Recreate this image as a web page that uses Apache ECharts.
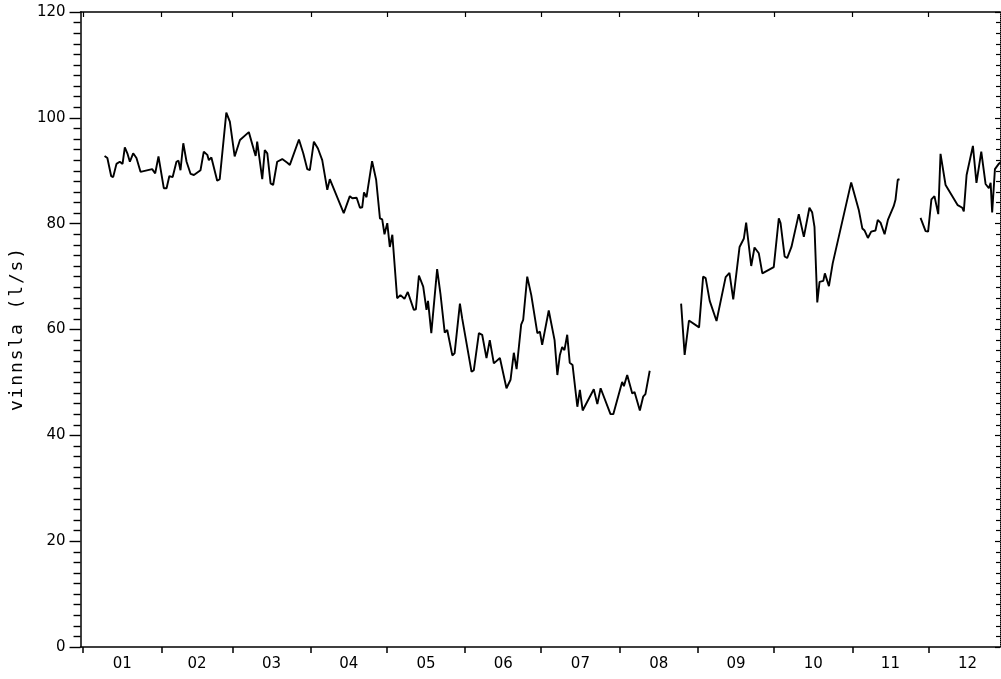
<!DOCTYPE html>
<html><head><meta charset="utf-8">
<script src="https://cdn.jsdelivr.net/npm/echarts@6/dist/echarts.min.js"></script>
<style>html,body{margin:0;padding:0;background:#fff}#c{width:1001px;height:679px}</style>
</head><body><div id="c"></div>
<script>
const monthLabels = ['01','02','03','04','05','06','07','08','09','10','11','12'];
const monthStartDays = [0,31,59,90,120,151,181,212,243,273,304,334];
const monthMidDays = [15.5,45,74.5,105,135.5,166,196.5,227.5,258,288.5,319,349.5];
const yAxisTitle = 'vinnsla (l/s)';

const seg1Days = [8.5,9.6,11.1,11.9,13.2,14.5,15.6,16.5,17.5,18.5,19.8,21.1,22.7,27.3,28.5,29.8,31.9,33.0,34.1,35.4,36.9,37.7,38.5,39.6,40.9,42.5,43.8,46.4,47.7,49.1,49.7,50.7,53.0,54.0,56.6,58.0,59.9,60.6,62.0,65.5,67.5,68.2,68.8,70.8,71.8,72.8,74.1,75.1,76.7,78.7,80.7,81.7,85.3,87.0,88.6,89.6,91.2,92.8,94.5,96.5,97.5,103.0,105.4,106.4,108.1,109.4,110.3,111.0,112.0,114.2,115.8,117.3,118.2,119.1,120.2,121.2,122.2,124.1,125.4,127.0,128.3,130.7,131.5,132.7,134.4,135.7,136.3,137.6,139.9,141.2,142.9,143.9,145.9,146.8,148.9,149.8,150.5,153.5,154.4,156.4,157.7,159.4,160.7,162.3,164.7,167.3,168.9,170.2,171.3,173.1,173.9,175.5,177.1,179.5,180.5,181.4,184.0,186.3,187.4,188.4,189.3,190.2,191.3,192.3,193.4,195.3,196.3,197.4,201.8,203.2,204.5,208.4,209.5,213.0,213.7,215.0,217.0,217.9,220.0,221.3,222.2,223.9];
const seg1Flow = [92.8,92.4,89.0,88.8,91.3,91.7,91.3,94.4,93.3,91.7,93.3,92.4,89.8,90.3,89.5,92.7,86.7,86.7,89.0,88.8,91.7,91.9,90.1,95.2,91.7,89.4,89.2,90.1,93.6,93.0,92.0,92.5,88.1,88.4,101.0,99.3,92.7,92.4,95.8,97.3,93.9,92.8,95.5,88.4,93.9,93.3,87.6,87.3,91.7,92.2,91.5,91.1,95.9,93.3,90.3,90.1,95.5,94.2,92.0,86.4,88.4,82.0,85.2,84.8,84.9,83.0,83.1,85.9,85.0,91.8,88.3,81.0,80.8,78.0,80.1,75.6,77.9,65.9,66.5,65.8,67.1,63.7,63.8,70.2,68.1,63.7,65.4,59.3,71.4,66.8,59.4,59.9,55.1,55.5,64.9,62.1,61.9,52.0,52.3,59.3,59.0,54.6,58.0,53.6,54.6,48.9,50.5,55.6,52.5,60.9,61.8,70.0,66.5,59.3,59.6,57.1,63.6,58.0,51.4,55.2,56.7,56.1,59.0,53.7,53.3,45.4,48.6,44.7,48.7,45.9,48.9,44.0,44.0,50.1,49.3,51.4,47.9,48.2,44.7,47.3,47.8,52.2];

const seg2Days = [236.3,237.7,239.4,243.4,245.0,246.0,247.6,250.3,253.9,255.4,256.9,257.4,259.4,261.1,262.0,264.0,265.3,267.0,268.4,272.9,274.9,275.6,277.2,278.2,279.9,282.8,284.8,287.0,288.1,289.0,290.1,291.0,292.5,293.1,294.7,296.2,303.5,306.5,307.9,308.8,310.1,311.4,313.1,314.0,315.1,316.7,318.0,320.3,321.0,321.9,322.6];
const seg2Flow = [64.9,55.2,61.7,60.4,70.0,69.7,65.4,61.6,69.9,70.7,65.7,65.6,75.6,77.2,80.2,72.0,75.5,74.4,70.6,71.8,81.0,80.1,73.8,73.5,75.6,81.8,77.5,83.0,82.1,79.4,65.1,69.0,69.2,70.6,68.2,72.5,87.8,82.6,79.1,78.7,77.3,78.5,78.7,80.7,80.2,78.0,80.7,83.3,84.5,88.3,88.4];

const seg3Days = [330.9,332.9,333.9,335.2,336.4,337.9,338.8,340.8,345.6,347.4,348.0,349.1,351.6,353.0,354.9,356.6,357.9,358.6,359.2,360.3,361.8,362.9];
const seg3Flow = [81.1,78.6,78.5,84.6,85.2,81.8,93.2,87.3,83.5,83.0,82.3,89.2,94.7,87.7,93.6,87.5,86.7,87.7,82.1,90.3,91.3,91.7];

const zip = (a, b) => a.map((d, i) => [d, b[i]]);
const segments = [zip(seg1Days, seg1Flow), zip(seg2Days, seg2Flow), zip(seg3Days, seg3Flow)];

const X_MIN = -1, X_MAX = 362.3;
const ink = '#000';
const font = 'DejaVu Sans';

const chart = echarts.init(document.getElementById('c'), null, {renderer: 'canvas'});
const titleRich = yAxisTitle.split('').map(ch => '{c|' + ch + '}').join('');

chart.setOption({
  animation: false,
  backgroundColor: '#fff',
  grid: {left: 80, right: 1, top: 12, bottom: 32, containLabel: false},
  xAxis: [
    {
      type: 'value', position: 'bottom', min: X_MIN, max: X_MAX,
      axisLine: {show: true, onZero: false, lineStyle: {color: ink, width: 1.5}},
      axisTick: {show: true, inside: false, length: 6, customValues: monthStartDays, lineStyle: {color: ink, width: 1.5}},
      axisLabel: {show: true, customValues: monthMidDays, margin: 10, fontSize: 15, color: ink, fontFamily: font,
        formatter: v => monthLabels[monthMidDays.indexOf(v)]},
      splitLine: {show: false}
    },
    {
      type: 'value', position: 'top', min: X_MIN, max: X_MAX,
      axisLine: {show: true, onZero: false, lineStyle: {color: ink, width: 1.5}},
      axisTick: {show: true, inside: true, length: 5, customValues: monthStartDays, lineStyle: {color: ink, width: 1.2}},
      axisLabel: {show: false},
      splitLine: {show: false}
    }
  ],
  yAxis: [
    {
      type: 'value', position: 'left', min: 0, max: 120, interval: 20,
      name: titleRich, nameLocation: 'middle', nameRotate: 90, nameGap: 49,
      nameTextStyle: {rich: {c: {fontFamily: 'DejaVu Sans Mono', fontSize: 18, color: ink, width: 12.7, align: 'center'}}},
      axisLine: {show: true, onZero: false, lineStyle: {color: ink, width: 1.5}},
      axisTick: {show: true, inside: false, length: 11, lineStyle: {color: ink, width: 1.4}},
      minorTick: {show: true, splitNumber: 10, length: 7, lineStyle: {color: ink, width: 1.4}},
      axisLabel: {show: true, margin: 15, fontSize: 15, color: ink, fontFamily: font},
      splitLine: {show: false}, minorSplitLine: {show: false}
    },
    {
      type: 'value', position: 'right', min: 0, max: 120, interval: 20,
      axisLine: {show: true, onZero: false, lineStyle: {color: ink, width: 1, type: 'dotted'}},
      axisTick: {show: true, inside: true, length: 5, lineStyle: {color: ink, width: 1.2}},
      minorTick: {show: true, splitNumber: 10, length: 4, lineStyle: {color: ink, width: 1.2}},
      axisLabel: {show: false},
      splitLine: {show: false}
    }
  ],
  series: segments.map(seg => ({
    type: 'line', xAxisIndex: 0, yAxisIndex: 0, data: seg,
    showSymbol: false, symbol: 'none', smooth: false, clip: true,
    lineStyle: {color: ink, width: 1.9}
  }))
});
</script></body></html>
